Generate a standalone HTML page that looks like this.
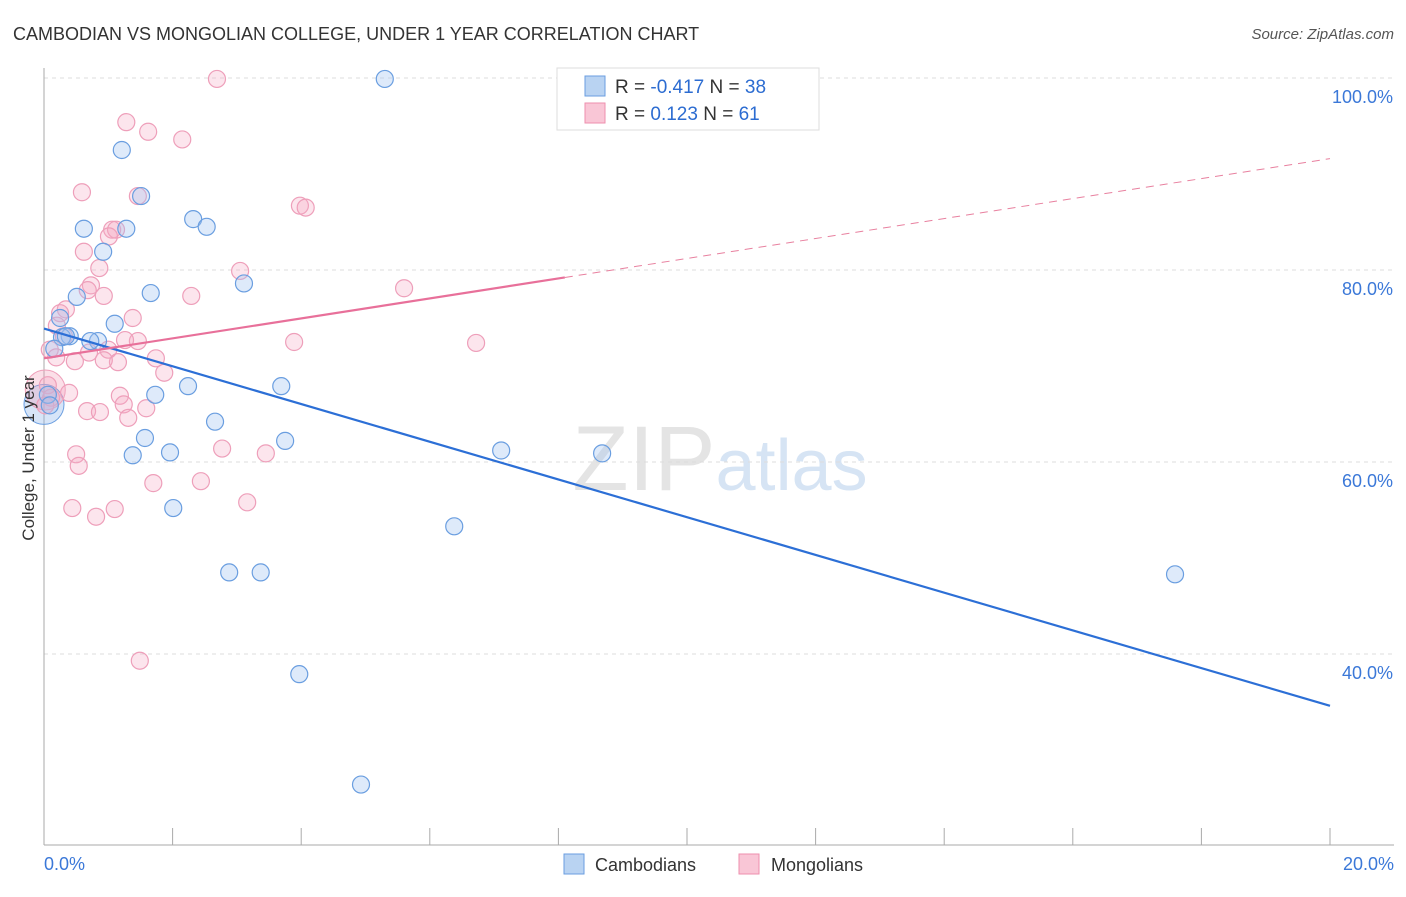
<!DOCTYPE html>
<html><head><meta charset="utf-8"><style>
body{margin:0;background:#fff;font-family:"Liberation Sans",sans-serif;}
svg text{font-family:"Liberation Sans",sans-serif;}
</style></head><body>
<svg id="chart" width="1406" height="892" xmlns="http://www.w3.org/2000/svg">
<text x="13" y="40" font-size="18" fill="#333">CAMBODIAN VS MONGOLIAN COLLEGE, UNDER 1 YEAR CORRELATION CHART</text>
<text x="1394" y="39" font-size="15" fill="#555" font-style="italic" text-anchor="end">Source: ZipAtlas.com</text>
<text x="720" y="490" font-size="92" text-anchor="middle" fill="#e4e4e4" font-family="Liberation Serif">ZIP<tspan fill="#d6e4f4" font-family="Liberation Sans" font-size="72">atlas</tspan></text>
<g id="grid"></g>
<g id="axes"></g>
<g id="pts"></g>
<g id="lines"></g>
<text transform="translate(34,458) rotate(-90)" font-size="17" fill="#333" text-anchor="middle">College, Under 1 year</text>
<g>
<rect x="557" y="68" width="262" height="62" fill="#fff" stroke="#ddd"/>
<rect x="585" y="76" width="20" height="20" fill="#b9d3f2" stroke="#6a9ee0"/>
<rect x="585" y="103" width="20" height="20" fill="#f9c6d6" stroke="#ee8fae"/>
<text x="615" y="93" font-size="19" fill="#333">R = <tspan fill="#2c6cd1">-0.417</tspan>   N = <tspan fill="#2c6cd1">38</tspan></text>
<text x="615" y="120" font-size="19" fill="#333">R =  <tspan fill="#2c6cd1"> 0.123</tspan>   N =  <tspan fill="#2c6cd1">61</tspan></text>
</g>
<g>
<rect x="564" y="854" width="20" height="20" fill="#b9d3f2" stroke="#6a9ee0"/>
<text x="595" y="871" font-size="18" fill="#333">Cambodians</text>
<rect x="739" y="854" width="20" height="20" fill="#f9c6d6" stroke="#ee8fae"/>
<text x="771" y="871" font-size="18" fill="#333">Mongolians</text>
</g>
</svg>
<script>
const blueX=[5.30,1.21,1.51,2.32,2.53,0.62,1.28,0.92,3.11,1.66,0.51,1.10,0.25,0.40,0.84,0.28,0.16,2.24,3.69,1.73,2.66,1.57,3.75,1.96,1.38,7.11,8.68,2.01,6.38,2.88,3.37,17.59,3.97,4.93,0.06,0.09,0.34,0.72];
const blueY=[99.9,92.5,87.7,85.3,84.5,84.3,84.3,81.9,78.6,77.6,77.2,74.4,75.0,73.1,72.6,73.0,71.8,67.9,67.9,67.0,64.2,62.5,62.2,61.0,60.7,61.2,60.9,55.2,53.3,48.5,48.5,48.3,37.9,26.4,67.0,65.9,73.1,72.6];
const pinkX=[2.69,1.28,1.62,2.15,0.59,1.46,3.98,4.07,1.06,1.12,1.01,0.62,0.86,3.05,0.73,0.68,0.93,2.29,5.60,0.34,0.25,1.38,0.20,0.31,1.46,3.89,6.72,1.26,0.09,1.00,0.70,0.19,1.74,1.15,0.48,0.93,1.87,0.06,0.11,0.39,1.18,1.24,1.59,0.67,0.87,1.31,0.02,2.77,0.50,0.54,3.45,1.70,2.44,3.16,0.44,1.10,0.81,1.49];
const pinkY=[99.9,95.4,94.4,93.6,88.1,87.7,86.7,86.5,84.2,84.2,83.5,81.9,80.2,79.9,78.4,77.9,77.3,77.3,78.1,75.9,75.5,75.0,74.2,73.1,72.6,72.5,72.4,72.7,71.7,71.7,71.4,70.9,70.8,70.4,70.5,70.6,69.3,68.0,66.7,67.2,66.9,66.0,65.6,65.3,65.2,64.6,65.9,61.4,60.8,59.6,60.9,57.8,58.0,55.8,55.2,55.1,54.3,39.3];
const bigX=[0.0,0.02];
const bigY=[66.0,67.5];
const yTicks=[100,80,60,40];
const yTickLabels=["100.0%","80.0%","60.0%","40.0%"];
const xTicks=[0,2,4,6,8,10,12,14,16,18,20];
const blueLine=[73.9,34.6];
const pinkLine=[70.8,91.6];
const pinkSolidEnd=8.1;
const NS="http://www.w3.org/2000/svg";
const X=v=>44+v*64.3, Y=v=>270-(v-80)*9.6;
function mk(tag,attrs,parent){const e=document.createElementNS(NS,tag);for(const k in attrs)e.setAttribute(k,attrs[k]);parent.appendChild(e);return e;}
const grid=document.getElementById('grid'),axes=document.getElementById('axes'),pts=document.getElementById('pts'),lines=document.getElementById('lines');
yTicks.forEach((t,i)=>{
 const l=mk('line',{x1:44,x2:1394,y1:Y(t),y2:Y(t),stroke:'#ddd','stroke-dasharray':'4,4'},grid);
 
 
 const tx=mk('text',{x:1393,y:Y(t)+25,'font-size':18,fill:'#3b78d8','text-anchor':'end'},axes);
 tx.textContent=yTickLabels[i];
 
 
});
mk('line',{x1:44,x2:44,y1:68,y2:845,stroke:'#aaa'},axes);
mk('line',{x1:44,x2:1394,y1:845,y2:845,stroke:'#aaa'},axes);
xTicks.forEach(t=>{
 const l=mk('line',{x1:X(t),x2:X(t),y1:828,y2:845,stroke:'#aaa'},axes);
 
 
});
const xl0=mk('text',{x:44,y:870,'font-size':18,fill:'#3b78d8'},axes);xl0.textContent='0.0%';


const xl1=mk('text',{x:1394,y:870,'font-size':18,fill:'#3b78d8','text-anchor':'end'},axes);xl1.textContent='20.0%';


bigX.forEach((x,i)=>{
 const c=mk('circle',{cx:X(x),cy:Y(bigY[i]),r:20,fill:i?'rgba(242,150,180,0.3)':'rgba(140,180,235,0.35)',stroke:i?'#ee9fba':'#6a9ee0'},pts);
 
 
});
pinkX.forEach((x,i)=>{
 const c=mk('circle',{cx:X(x),cy:Y(pinkY[i]),r:8.5,fill:'rgba(246,170,196,0.3)',stroke:'#ee9fba','stroke-width':1.2},pts);
 
 
});
blueX.forEach((x,i)=>{
 const c=mk('circle',{cx:X(x),cy:Y(blueY[i]),r:8.5,fill:'rgba(160,195,240,0.35)',stroke:'#6a9ee0','stroke-width':1.2},pts);
 
 
});
const bl=mk('line',{x1:X(0),y1:Y(blueLine[0]),x2:X(20),y2:Y(blueLine[1]),stroke:'#2c6fd6','stroke-width':2.2},lines);


const pAt=x=>pinkLine[0]+(pinkLine[1]-pinkLine[0])*x/20;
const ps=mk('line',{x1:X(0),y1:Y(pAt(0)),x2:X(pinkSolidEnd),y2:Y(pAt(pinkSolidEnd)),stroke:'#e8709a','stroke-width':2.2},lines);


const pd=mk('line',{x1:X(pinkSolidEnd),y1:Y(pAt(pinkSolidEnd)),x2:X(20),y2:Y(pAt(20)),stroke:'#e8809f','stroke-width':1,'stroke-dasharray':'8,6'},lines);


</script>
</body></html>
